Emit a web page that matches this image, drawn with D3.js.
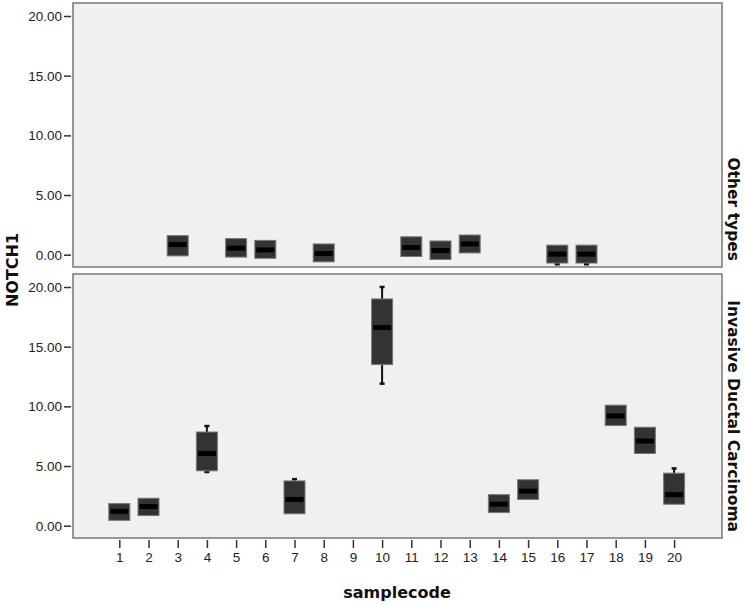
<!DOCTYPE html>
<html>
<head>
<meta charset="utf-8">
<script src="https://cdn.jsdelivr.net/npm/d3@7"></script>
<style>
  body { margin: 0; background: #fff; }
  svg { display: block; }
</style>
</head>
<body>
<div id="chart"></div>
<script>
// sample codes on the x axis and y axis ticks
var sampleCodes = d3.range(1, 21);
var yTicks = [0, 5, 10, 15, 20];
var panelNames = ["Other types", "Invasive Ductal Carcinoma"];

// "Other types" boxes
var otherCodes  = [3, 5, 6, 8, 11, 12, 13, 16, 17];
var otherQ1     = [-0.1, -0.2, -0.3, -0.6, -0.15, -0.4, 0.15, -0.7, -0.7];
var otherMedian = [0.85, 0.55, 0.4, 0.1, 0.6, 0.35, 0.9, 0.05, 0.05];
var otherQ3     = [1.6, 1.35, 1.2, 0.9, 1.5, 1.15, 1.65, 0.8, 0.8];
var otherLow    = [null, null, null, null, null, null, null, -0.8, -0.8];
var otherHigh   = [null, null, null, null, null, null, null, null, null];

// "Invasive Ductal Carcinoma" boxes
var idcCodes  = [1, 2, 4, 7, 10, 14, 15, 18, 19, 20];
var idcQ1     = [0.45, 0.85, 4.6, 1.0, 13.5, 1.1, 2.2, 8.4, 6.05, 1.8];
var idcMedian = [1.2, 1.6, 6.05, 2.2, 16.6, 1.8, 2.9, 9.2, 7.1, 2.6];
var idcQ3     = [1.85, 2.3, 7.85, 3.75, 19.0, 2.6, 3.85, 10.1, 8.25, 4.4];
var idcLow    = [null, null, 4.5, null, 11.9, null, null, null, null, null];
var idcHigh   = [null, null, 8.35, 3.9, 20.0, null, null, null, null, 4.8];

var width = 744, height = 605;
var left = 73, right = 722;
var panelH = 264;
var panelTops = [3, 274];

var svg = d3.select("#chart").append("svg")
    .attr("width", width)
    .attr("height", height);

var x = d3.scalePoint()
    .domain(sampleCodes)
    .range([119.3, 674.1]);

var boxW = 21;

function rows(codes, q1, med, q3, lo, hi) {
    return codes.map(function(c, i) {
        return { code: c, q1: q1[i], med: med[i], q3: q3[i], lo: lo[i], hi: hi[i] };
    });
}

var panels = [
    rows(otherCodes, otherQ1, otherMedian, otherQ3, otherLow, otherHigh),
    rows(idcCodes, idcQ1, idcMedian, idcQ3, idcLow, idcHigh)
];

panels.forEach(function(data, p) {
    var top = panelTops[p];
    var y = d3.scaleLinear().domain([0, 20]).range([top + 251.7, top + 13]);

    var g = svg.append("g");

    g.append("rect")
        .attr("x", left)
        .attr("y", top)
        .attr("width", right - left)
        .attr("height", panelH)
        .attr("fill", "#f0f0f0")
        .attr("stroke", "#7f7f7f")
        .attr("stroke-width", 1.6);

    // y axis
    var yAxis = d3.axisLeft(y)
        .tickValues(yTicks)
        .tickSize(7)
        .tickPadding(2)
        .tickFormat(d3.format(".2f"));
    var ya = g.append("g")
        .attr("transform", "translate(" + (left - 2) + ",0)")
        .call(yAxis);
    ya.select(".domain").remove();
    ya.selectAll("line").attr("stroke", "#333").attr("stroke-width", 1.5);
    ya.selectAll("text")
        .attr("fill", "#222")
        .style("font-family", "'Liberation Sans', Arial, sans-serif")
        .style("font-size", "13.5px");

    // whiskers
    var wk = g.selectAll(".whisker")
        .data(data.filter(function(d) { return d.lo != null || d.hi != null; }))
        .enter().append("g");
    wk.each(function(d) {
        var w = d3.select(this), cx = x(d.code);
        if (d.hi != null) {
            w.append("line").attr("x1", cx).attr("x2", cx)
                .attr("y1", y(d.hi)).attr("y2", y(d.q3))
                .attr("stroke", "#111").attr("stroke-width", 2);
            w.append("line").attr("x1", cx - 2.5).attr("x2", cx + 2.5)
                .attr("y1", y(d.hi)).attr("y2", y(d.hi))
                .attr("stroke", "#111").attr("stroke-width", 2.5);
        }
        if (d.lo != null) {
            w.append("line").attr("x1", cx).attr("x2", cx)
                .attr("y1", y(d.q1)).attr("y2", y(d.lo))
                .attr("stroke", "#111").attr("stroke-width", 2);
            w.append("line").attr("x1", cx - 2.5).attr("x2", cx + 2.5)
                .attr("y1", y(d.lo)).attr("y2", y(d.lo))
                .attr("stroke", "#111").attr("stroke-width", 2.5);
        }
    });

    // boxes
    g.selectAll(".box")
        .data(data)
        .enter().append("rect")
            .attr("x", function(d) { return x(d.code) - boxW / 2; })
            .attr("y", function(d) { return y(d.q3); })
            .attr("width", boxW)
            .attr("height", function(d) { return y(d.q1) - y(d.q3); })
            .attr("fill", "#333")
            .attr("stroke", "#777")
            .attr("stroke-width", 1);

    // medians
    g.selectAll(".median")
        .data(data)
        .enter().append("rect")
            .attr("x", function(d) { return x(d.code) - boxW / 2 + 1.5; })
            .attr("y", function(d) { return y(d.med) - 2.5; })
            .attr("width", boxW - 3)
            .attr("height", 5)
            .attr("fill", "#000");

    // panel label on the right
    g.append("text")
        .attr("transform", "translate(733," + (top + panelH - 6) + ") rotate(90)")
        .attr("text-anchor", "end")
        .attr("dominant-baseline", "central")
        .style("font-family", "'DejaVu Sans', sans-serif")
        .style("font-weight", "bold")
        .style("font-size", "15.5px")
        .attr("fill", "#111")
        .text(panelNames[p]);
});

// x axis under the bottom panel
var xAxis = d3.axisBottom(x).tickSize(8).tickPadding(4);
var xa = svg.append("g")
    .attr("transform", "translate(0," + (panelTops[1] + panelH + 2) + ")")
    .call(xAxis);
xa.select(".domain").remove();
xa.selectAll("line").attr("stroke", "#333").attr("stroke-width", 1.5);
xa.selectAll("text")
    .attr("fill", "#222")
    .style("font-family", "'Liberation Sans', Arial, sans-serif")
    .style("font-size", "13.5px");

svg.append("text")
    .attr("x", 397)
    .attr("y", 598)
    .attr("text-anchor", "middle")
    .style("font-family", "'DejaVu Sans', sans-serif")
    .style("font-weight", "bold")
    .style("font-size", "16px")
    .attr("fill", "#111")
    .text("samplecode");

svg.append("text")
    .attr("transform", "translate(12,270) rotate(-90)")
    .attr("text-anchor", "middle")
    .attr("dominant-baseline", "central")
    .style("font-family", "'DejaVu Sans', sans-serif")
    .style("font-weight", "bold")
    .style("font-size", "16px")
    .attr("fill", "#111")
    .text("NOTCH1");
</script>
</body>
</html>
